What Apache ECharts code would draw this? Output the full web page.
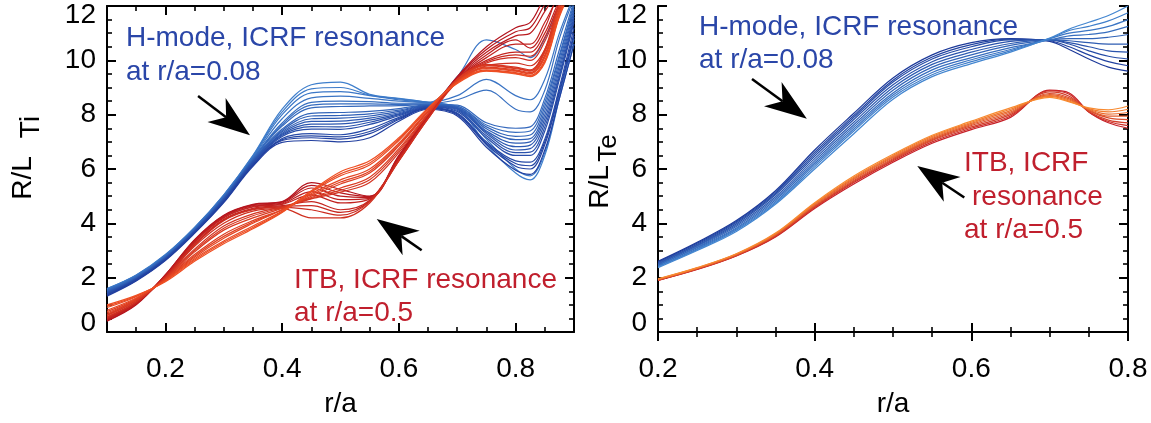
<!DOCTYPE html>
<html>
<head>
<meta charset="utf-8">
<script src="https://cdn.jsdelivr.net/npm/echarts@6/dist/echarts.min.js"></script>
<style>
  html, body { margin: 0; padding: 0; background: #ffffff; }
  #chart { width: 1151px; height: 423px; }
</style>
</head>
<body>
<div id="chart"></div>
<script>
// ---- radial grids (r/a) ----
const rhoTi = [0.10, 0.15, 0.20, 0.25, 0.30, 0.35, 0.40, 0.45, 0.50, 0.55, 0.60, 0.65, 0.70, 0.75, 0.80, 0.825, 0.85, 0.875, 0.90];
const rhoTe = [0.20, 0.25, 0.30, 0.35, 0.40, 0.45, 0.50, 0.55, 0.60, 0.65, 0.70, 0.725, 0.75, 0.775, 0.80];

// ---- R/L_Ti, H-mode shots (ICRF resonance at r/a=0.08) ----
const tiHmode = [
  [1.60, 2.10, 2.85, 3.85, 5.05, 6.50, 8.20, 9.10, 9.20, 8.75, 8.60, 8.45, 8.25, 6.90, 5.85, 5.60, 6.50, 8.60, 10.6],
  [1.59, 2.09, 2.84, 3.84, 5.04, 6.48, 8.10, 8.95, 9.00, 8.72, 8.58, 8.45, 8.22, 7.10, 6.00, 5.75, 6.60, 8.70, 10.8],
  [1.58, 2.08, 2.83, 3.83, 5.03, 6.45, 8.00, 8.80, 8.85, 8.70, 8.55, 8.45, 9.40, 10.75, 10.4, 10.1, 10.8, 12.0, 12.5],
  [1.56, 2.06, 2.81, 3.81, 5.00, 6.42, 7.85, 8.62, 8.68, 8.60, 8.50, 8.45, 8.70, 9.30, 8.70, 8.55, 9.30, 11.0, 12.4],
  [1.54, 2.04, 2.79, 3.79, 4.98, 6.39, 7.70, 8.45, 8.50, 8.48, 8.42, 8.42, 8.55, 8.90, 8.20, 8.10, 8.90, 10.8, 12.3],
  [1.53, 2.03, 2.78, 3.78, 4.97, 6.37, 7.64, 8.35, 8.40, 8.40, 8.38, 8.40, 8.32, 7.62, 7.35, 7.40, 8.45, 10.2, 12.1],
  [1.52, 2.02, 2.77, 3.77, 4.96, 6.36, 7.58, 8.25, 8.30, 8.32, 8.33, 8.38, 8.35, 7.70, 7.50, 7.55, 8.60, 10.4, 12.2],
  [1.50, 2.00, 2.75, 3.75, 4.94, 6.33, 7.47, 8.05, 8.08, 8.12, 8.22, 8.36, 8.30, 7.55, 7.20, 7.25, 8.30, 10.1, 12.0],
  [1.49, 1.99, 2.74, 3.74, 4.92, 6.31, 7.42, 7.95, 7.97, 8.03, 8.17, 8.34, 8.27, 7.48, 7.08, 7.12, 8.15, 9.95, 11.9],
  [1.47, 1.98, 2.73, 3.73, 4.91, 6.30, 7.37, 7.85, 7.87, 7.95, 8.12, 8.33, 8.25, 7.40, 6.95, 7.00, 8.00, 9.80, 11.8],
  [1.45, 1.97, 2.72, 3.72, 4.89, 6.28, 7.32, 7.75, 7.76, 7.87, 8.07, 8.32, 8.22, 7.35, 6.82, 6.88, 7.85, 9.65, 11.7],
  [1.44, 1.96, 2.71, 3.71, 4.88, 6.26, 7.28, 7.65, 7.66, 7.80, 8.03, 8.31, 8.20, 7.30, 6.70, 6.75, 7.70, 9.50, 11.6],
  [1.42, 1.95, 2.70, 3.70, 4.86, 6.24, 7.24, 7.56, 7.55, 7.72, 8.00, 8.30, 8.16, 7.22, 6.60, 6.62, 7.55, 9.40, 11.5],
  [1.41, 1.94, 2.69, 3.69, 4.85, 6.22, 7.20, 7.47, 7.46, 7.64, 7.96, 8.28, 8.12, 7.15, 6.50, 6.50, 7.40, 9.30, 11.4],
  [1.38, 1.92, 2.67, 3.67, 4.82, 6.18, 7.12, 7.30, 7.26, 7.48, 7.90, 8.26, 8.06, 7.00, 6.30, 6.25, 7.10, 9.00, 11.2],
  [1.36, 1.91, 2.66, 3.66, 4.80, 6.16, 7.08, 7.22, 7.18, 7.38, 7.86, 8.24, 8.03, 6.95, 6.20, 6.12, 7.00, 8.90, 11.0],
  [1.35, 1.90, 2.65, 3.65, 4.79, 6.14, 7.05, 7.15, 7.10, 7.30, 7.82, 8.23, 8.00, 6.90, 6.10, 6.00, 6.90, 8.80, 10.9],
  [1.32, 1.88, 2.63, 3.63, 4.76, 6.10, 6.98, 7.05, 7.00, 7.15, 7.76, 8.20, 7.95, 6.80, 5.95, 5.80, 6.70, 8.60, 10.6]
];

// ---- R/L_Ti, ITB shots (ICRF resonance at r/a=0.5) ----
const tiItb = [
  [0.40, 1.00, 2.10, 3.40, 4.30, 4.70, 4.80, 5.50, 5.25, 5.00, 6.50, 8.00, 9.40, 10.5, 11.2, 11.4, 12.3, 12.8, 13.0],
  [0.42, 1.02, 2.10, 3.38, 4.28, 4.68, 4.78, 5.40, 5.12, 4.98, 6.48, 7.98, 9.38, 10.4, 11.05, 11.2, 12.05, 12.7, 13.0],
  [0.45, 1.05, 2.10, 3.35, 4.25, 4.65, 4.75, 5.30, 5.00, 4.95, 6.45, 7.95, 9.35, 10.3, 10.9, 11.0, 11.8, 12.6, 13.0],
  [0.48, 1.07, 2.07, 3.32, 4.22, 4.62, 4.72, 5.17, 4.87, 4.92, 6.42, 7.92, 9.32, 10.2, 10.75, 10.45, 11.2, 12.5, 13.0],
  [0.50, 1.05, 2.05, 3.30, 4.20, 4.60, 4.70, 5.05, 4.75, 4.90, 6.40, 7.90, 9.30, 10.1, 10.6, 10.6, 11.4, 12.4, 13.0],
  [0.50, 1.10, 2.05, 3.25, 4.15, 4.55, 4.65, 4.80, 4.50, 4.85, 6.35, 7.90, 9.30, 10.0, 10.3, 10.3, 11.0, 12.2, 13.0],
  [0.52, 1.10, 2.02, 3.22, 4.12, 4.52, 4.62, 4.65, 4.40, 4.82, 6.32, 7.88, 9.28, 9.95, 10.2, 10.15, 10.85, 12.1, 13.0],
  [0.55, 1.10, 2.00, 3.20, 4.10, 4.50, 4.60, 4.50, 4.30, 4.80, 6.30, 7.85, 9.25, 9.90, 10.1, 10.0, 10.7, 12.0, 13.0],
  [0.55, 1.10, 2.00, 3.15, 4.00, 4.45, 4.55, 4.20, 4.20, 4.75, 6.30, 7.85, 9.20, 9.80, 9.90, 9.80, 10.4, 11.8, 13.0],
  [0.60, 1.15, 2.00, 3.05, 3.90, 4.35, 4.60, 4.90, 5.15, 5.50, 6.60, 8.00, 9.30, 9.85, 9.75, 9.65, 10.4, 12.1, 13.0],
  [0.62, 1.17, 1.98, 3.00, 3.82, 4.28, 4.58, 4.92, 5.22, 5.60, 6.68, 8.02, 9.30, 9.82, 9.72, 9.62, 10.35, 12.05, 13.0],
  [0.65, 1.20, 1.95, 2.95, 3.75, 4.20, 4.55, 4.95, 5.30, 5.70, 6.75, 8.05, 9.30, 9.80, 9.70, 9.60, 10.3, 12.0, 13.0],
  [0.70, 1.20, 1.95, 2.85, 3.60, 4.10, 4.50, 5.00, 5.45, 5.85, 6.85, 8.10, 9.25, 9.75, 9.65, 9.55, 10.2, 11.9, 13.0],
  [0.75, 1.22, 1.92, 2.80, 3.52, 4.05, 4.50, 5.05, 5.52, 5.92, 6.90, 8.12, 9.22, 9.72, 9.62, 9.52, 10.15, 11.85, 13.0],
  [0.80, 1.25, 1.90, 2.75, 3.45, 4.00, 4.50, 5.10, 5.60, 6.00, 6.95, 8.15, 9.20, 9.70, 9.60, 9.50, 10.1, 11.8, 13.0],
  [0.90, 1.30, 1.90, 2.70, 3.35, 3.90, 4.45, 5.15, 5.75, 6.15, 7.05, 8.20, 9.20, 9.65, 9.55, 9.45, 10.0, 11.7, 13.0],
  [0.95, 1.32, 1.88, 2.65, 3.30, 3.85, 4.42, 5.18, 5.82, 6.22, 7.10, 8.22, 9.18, 9.62, 9.52, 9.42, 9.95, 11.65, 12.9],
  [1.00, 1.35, 1.85, 2.60, 3.25, 3.80, 4.40, 5.20, 5.90, 6.30, 7.15, 8.25, 9.15, 9.60, 9.50, 9.40, 9.90, 11.6, 12.8]
];

// ---- R/L_Te, H-mode shots ----
const teHmode = [
  [2.60, 3.30, 4.10, 5.20, 6.70, 8.05, 9.35, 10.20, 10.65, 10.80, 10.70, 10.40, 10.05, 9.75, 9.60],
  [2.58, 3.27, 4.07, 5.15, 6.62, 7.97, 9.27, 10.12, 10.58, 10.78, 10.72, 10.50, 10.20, 9.95, 9.80],
  [2.55, 3.23, 4.03, 5.10, 6.55, 7.90, 9.20, 10.05, 10.50, 10.75, 10.75, 10.60, 10.35, 10.15, 10.05],
  [2.52, 3.20, 3.98, 5.05, 6.47, 7.82, 9.10, 9.95, 10.40, 10.70, 10.75, 10.65, 10.50, 10.35, 10.30],
  [2.50, 3.17, 3.93, 4.98, 6.38, 7.72, 9.00, 9.85, 10.30, 10.62, 10.75, 10.72, 10.65, 10.60, 10.60],
  [2.47, 3.13, 3.88, 4.92, 6.30, 7.63, 8.90, 9.75, 10.20, 10.55, 10.75, 10.80, 10.80, 10.85, 10.95],
  [2.45, 3.10, 3.83, 4.86, 6.22, 7.55, 8.80, 9.65, 10.10, 10.47, 10.75, 10.90, 10.95, 11.05, 11.25],
  [2.42, 3.06, 3.79, 4.80, 6.15, 7.47, 8.72, 9.55, 10.02, 10.40, 10.80, 11.00, 11.10, 11.25, 11.50],
  [2.40, 3.03, 3.75, 4.75, 6.08, 7.40, 8.65, 9.47, 9.95, 10.35, 10.80, 11.10, 11.25, 11.45, 11.75],
  [2.37, 3.00, 3.70, 4.70, 6.00, 7.30, 8.57, 9.40, 9.88, 10.30, 10.82, 11.15, 11.40, 11.65, 12.00]
];

// ---- R/L_Te, ITB shots ----
const teItb = [
  [1.90, 2.30, 2.80, 3.50, 4.55, 5.45, 6.25, 6.95, 7.45, 7.90, 8.90, 8.80, 8.10, 7.70, 7.50],
  [1.90, 2.31, 2.81, 3.52, 4.58, 5.50, 6.30, 7.00, 7.50, 7.95, 8.88, 8.75, 8.10, 7.75, 7.60],
  [1.91, 2.32, 2.82, 3.54, 4.61, 5.54, 6.34, 7.05, 7.55, 8.00, 8.84, 8.68, 8.12, 7.80, 7.70],
  [1.92, 2.33, 2.83, 3.56, 4.64, 5.58, 6.38, 7.08, 7.60, 8.05, 8.78, 8.62, 8.15, 7.88, 7.82],
  [1.93, 2.34, 2.85, 3.58, 4.67, 5.62, 6.42, 7.12, 7.64, 8.10, 8.74, 8.58, 8.18, 7.95, 7.95],
  [1.94, 2.35, 2.86, 3.60, 4.70, 5.66, 6.46, 7.16, 7.68, 8.15, 8.70, 8.54, 8.20, 8.02, 8.08],
  [1.95, 2.36, 2.87, 3.62, 4.73, 5.70, 6.50, 7.20, 7.72, 8.20, 8.67, 8.50, 8.22, 8.10, 8.20],
  [1.96, 2.37, 2.88, 3.64, 4.76, 5.74, 6.54, 7.24, 7.76, 8.25, 8.64, 8.47, 8.25, 8.18, 8.32]
];

// ---- axis ticks ----
const tiMajorTicks = [0.2, 0.4, 0.6, 0.8];

// ---- annotation arrows [tail, tip] in data units ----
const arrowTiHmode = [[0.256, 8.69], [0.345, 7.24]];
const arrowTiItb   = [[0.639, 3.01], [0.562, 4.16]];
const arrowTeHmode = [[0.320, 9.31], [0.390, 7.85]];
const arrowTeItb   = [[0.591, 4.95], [0.531, 6.11]];

const FONT = '"Liberation Sans", Arial, Helvetica, sans-serif';
const BLUE_TEXT = '#2a46a8';
const RED_TEXT = '#c01f2d';

function mix(a, b, t) {
  const pa = a.match(/\w\w/g).map(h => parseInt(h, 16));
  const pb = b.match(/\w\w/g).map(h => parseInt(h, 16));
  const c = pa.map((v, i) => Math.round(v + (pb[i] - v) * t));
  return 'rgb(' + c.join(',') + ')';
}

function bundle(xs, curves, c0, c1, xi, yi, z) {
  return curves.map((ys, k) => ({
    type: 'line',
    xAxisIndex: xi,
    yAxisIndex: yi,
    data: xs.map((x, i) => [x, ys[i]]),
    showSymbol: false,
    smooth: 0.35,
    clip: true,
    silent: true,
    z: z,
    lineStyle: { width: 1.2, color: mix(c0, c1, curves.length > 1 ? k / (curves.length - 1) : 0) }
  }));
}

const yLabel = {
  show: true,
  fontSize: 28,
  color: '#000',
  fontFamily: FONT,
  margin: 11,
  formatter: v => v === 0 ? '{lo|0}' : (v === 12 ? '{hi|12}' : String(v)),
  rich: {
    lo: { fontSize: 28, color: '#000', fontFamily: FONT, padding: [0, 0, 18, 0] },
    hi: { fontSize: 28, color: '#000', fontFamily: FONT, padding: [18, 0, 0, 0] }
  }
};

const frameLine = { show: true, lineStyle: { color: '#000', width: 2 } };
const noLine = { show: false };
const majorTickStyle = { color: '#000', width: 2 };
const minorTickStyle = { color: '#000', width: 1.6 };

function yAxisPair(grid) {
  const base = {
    type: 'value', gridIndex: grid, min: 0, max: 12, interval: 2,
    splitLine: { show: false },
    axisTick: { show: true, inside: true, length: 9, lineStyle: majorTickStyle },
    minorTick: { show: true, splitNumber: 4, length: 5, lineStyle: minorTickStyle }
  };
  return [
    Object.assign({}, base, { position: 'left', axisLine: frameLine, axisLabel: yLabel }),
    Object.assign({}, base, { position: 'right', axisLine: frameLine, axisLabel: { show: false } })
  ];
}

const xName = {
  name: 'r/a',
  nameLocation: 'middle',
  nameGap: 58,
  nameTextStyle: { fontSize: 28, color: '#000', fontFamily: FONT }
};

const xLabelStyle = { fontSize: 28, color: '#000', fontFamily: FONT, margin: 23, formatter: v => v.toFixed(1) };

// left grid: minor-tick axes (0.05 spacing) and major-tick axes (0.2 values)
const tiAxes = [
  { type: 'value', gridIndex: 0, position: 'bottom', min: 0.1, max: 0.9, interval: 0.05,
    axisLine: frameLine, splitLine: { show: false }, axisLabel: { show: false },
    axisTick: { show: true, inside: true, length: 5, lineStyle: minorTickStyle } },
  Object.assign({ type: 'value', gridIndex: 0, position: 'bottom', min: 0.1, max: 0.9,
    axisLine: noLine, splitLine: { show: false },
    axisTick: { show: true, inside: true, length: 9, customValues: tiMajorTicks, lineStyle: majorTickStyle },
    axisLabel: Object.assign({ show: true, customValues: tiMajorTicks }, xLabelStyle) }, xName),
  { type: 'value', gridIndex: 0, position: 'top', min: 0.1, max: 0.9, interval: 0.05,
    axisLine: frameLine, splitLine: { show: false }, axisLabel: { show: false },
    axisTick: { show: true, inside: true, length: 5, lineStyle: minorTickStyle } },
  { type: 'value', gridIndex: 0, position: 'top', min: 0.1, max: 0.9,
    axisLine: noLine, splitLine: { show: false }, axisLabel: { show: false },
    axisTick: { show: true, inside: true, length: 9, customValues: tiMajorTicks, lineStyle: majorTickStyle } }
];

const teAxisBase = {
  type: 'value', gridIndex: 1, min: 0.2, max: 0.8, interval: 0.2,
  splitLine: { show: false },
  axisLine: frameLine,
  axisTick: { show: true, inside: true, length: 9, lineStyle: majorTickStyle },
  minorTick: { show: true, splitNumber: 4, length: 5, lineStyle: minorTickStyle }
};
const teAxes = [
  Object.assign({}, teAxisBase, { position: 'bottom', axisLabel: xLabelStyle }, xName),
  Object.assign({}, teAxisBase, { position: 'top', axisLabel: { show: false } })
];

const series = [].concat(
  bundle(rhoTi, tiHmode, '3f7fcc', '213f9f', 0, 0, 2),
  bundle(rhoTi, tiItb, 'b3141e', 'ef4f23', 0, 0, 3),
  bundle(rhoTe, teHmode, '1d3a9a', '4386d0', 4, 2, 2),
  bundle(rhoTe, teItb, 'c62028', 'f88a30', 4, 2, 3)
);

function note(text, x, y, color) {
  return { type: 'text', x: x, y: y, z: 50,
    style: { text: text, fill: color, font: '28px ' + FONT, textAlign: 'left', textVerticalAlign: 'middle' } };
}
function vtitle(text, x, y, size) {
  return { type: 'text', x: x, y: y, rotation: Math.PI / 2, z: 50,
    style: { text: text, fill: '#000', font: size + 'px ' + FONT, textAlign: 'center', textVerticalAlign: 'middle' } };
}

const chart = echarts.init(document.getElementById('chart'), null, { renderer: 'canvas' });
chart.setOption({
  animation: false,
  backgroundColor: '#ffffff',
  grid: [
    { left: 107, top: 6, width: 467, height: 330, containLabel: false },
    { left: 658, top: 6, width: 470, height: 330, containLabel: false }
  ],
  xAxis: tiAxes.concat(teAxes),
  yAxis: yAxisPair(0).concat(yAxisPair(1)),
  series: series
});

function arrowGraphics(xi, yi, pair) {
  const p0 = chart.convertToPixel({ xAxisIndex: xi, yAxisIndex: yi }, pair[0]);
  const p1 = chart.convertToPixel({ xAxisIndex: xi, yAxisIndex: yi }, pair[1]);
  const dx = p1[0] - p0[0], dy = p1[1] - p0[1];
  const len = Math.sqrt(dx * dx + dy * dy);
  const ux = dx / len, uy = dy / len, nx = -uy, ny = ux;
  const L = 42, W = 15, N = 30;
  const head = [
    [p1[0], p1[1]],
    [p1[0] - L * ux + W * nx, p1[1] - L * uy + W * ny],
    [p1[0] - N * ux, p1[1] - N * uy],
    [p1[0] - L * ux - W * nx, p1[1] - L * uy - W * ny]
  ];
  return [
    { type: 'line', z: 40, shape: { x1: p0[0], y1: p0[1], x2: p1[0] - N * ux, y2: p1[1] - N * uy },
      style: { stroke: '#000', lineWidth: 2.5 } },
    { type: 'polygon', z: 41, shape: { points: head }, style: { fill: '#000' } }
  ];
}

chart.setOption({
  graphic: [].concat(
    arrowGraphics(0, 0, arrowTiHmode),
    arrowGraphics(0, 0, arrowTiItb),
    arrowGraphics(4, 2, arrowTeHmode),
    arrowGraphics(4, 2, arrowTeItb),
    [
      note('H-mode, ICRF resonance', 126, 38, BLUE_TEXT),
      note('at r/a=0.08', 126, 72, BLUE_TEXT),
      note('ITB, ICRF resonance', 294, 280, RED_TEXT),
      note('at r/a=0.5', 294, 313, RED_TEXT),
      note('H-mode, ICRF resonance', 699, 27, BLUE_TEXT),
      note('at r/a=0.08', 699, 60, BLUE_TEXT),
      note('ITB, ICRF', 964, 163, RED_TEXT),
      note('resonance', 972, 197, RED_TEXT),
      note('at r/a=0.5', 964, 230, RED_TEXT),
      vtitle('R/L', 23, 178, 28),
      vtitle('Ti', 31, 127, 28),
      vtitle('R/L', 600, 187, 28),
      vtitle('Te', 609, 148, 26)
    ]
  )
});
</script>
</body>
</html>
